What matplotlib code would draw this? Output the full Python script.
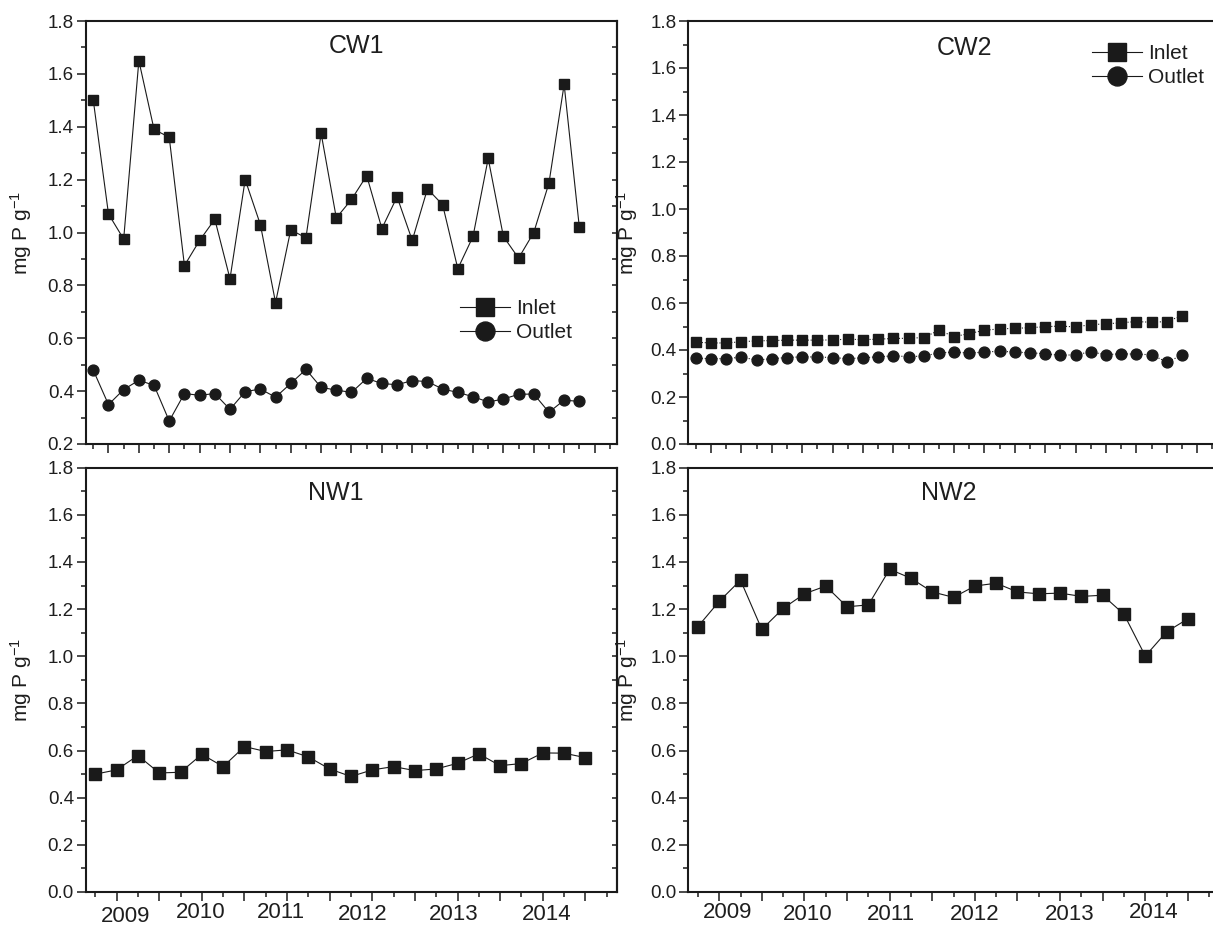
import matplotlib
matplotlib.use('Agg')
import matplotlib.pyplot as plt
from matplotlib.ticker import MultipleLocator, NullFormatter, FormatStrFormatter

plt.rcParams['font.family'] = ['Liberation Sans', 'DejaVu Sans']
plt.rcParams['mathtext.fontset'] = 'custom'
plt.rcParams['mathtext.rm'] = 'Liberation Sans'
plt.rcParams['mathtext.it'] = 'Liberation Sans:italic'
plt.rcParams['mathtext.bf'] = 'Liberation Sans:bold'

# ---------------- data ----------------
cw1_inlet = [1.50, 1.07, 0.975, 1.65, 1.39, 1.36, 0.875, 0.97, 1.05, 0.825, 1.20,
             1.03, 0.735, 1.01, 0.98, 1.375, 1.055, 1.125, 1.215, 1.015, 1.135, 0.97,
             1.165, 1.105, 0.863, 0.985, 1.28, 0.985, 0.903, 1.00, 1.187, 1.56, 1.02]
cw1_outlet = [0.479, 0.349, 0.406, 0.441, 0.422, 0.287, 0.391, 0.384, 0.391, 0.331,
              0.398, 0.408, 0.377, 0.429, 0.482, 0.414, 0.404, 0.395, 0.448, 0.429,
              0.424, 0.440, 0.436, 0.408, 0.395, 0.379, 0.359, 0.370, 0.388, 0.389,
              0.320, 0.366, 0.361]
cw2_inlet = [0.433, 0.430, 0.430, 0.435, 0.439, 0.440, 0.442, 0.442, 0.442, 0.443,
             0.446, 0.444, 0.446, 0.449, 0.450, 0.453, 0.484, 0.457, 0.470, 0.484,
             0.490, 0.492, 0.495, 0.499, 0.502, 0.498, 0.508, 0.511, 0.516, 0.521,
             0.518, 0.521, 0.546]
cw2_outlet = [0.365, 0.363, 0.363, 0.370, 0.357, 0.363, 0.368, 0.371, 0.370, 0.368,
              0.363, 0.367, 0.371, 0.375, 0.372, 0.374, 0.388, 0.391, 0.387, 0.391,
              0.395, 0.391, 0.388, 0.384, 0.377, 0.380, 0.392, 0.380, 0.384, 0.382,
              0.380, 0.349, 0.377]
nw1_inlet = [0.500, 0.518, 0.579, 0.505, 0.508, 0.584, 0.532, 0.617, 0.596, 0.603,
             0.573, 0.522, 0.490, 0.518, 0.532, 0.515, 0.522, 0.546, 0.586, 0.536,
             0.545, 0.590, 0.589, 0.570]
nw2_inlet = [1.126, 1.233, 1.323, 1.114, 1.203, 1.265, 1.298, 1.210, 1.218, 1.369,
             1.331, 1.273, 1.250, 1.298, 1.310, 1.273, 1.265, 1.268, 1.254, 1.259,
             1.178, 1.001, 1.104, 1.159]
year_labels = ['2009', '2010', '2011', '2012', '2013', '2014']
panel_titles = ['CW1', 'CW2', 'NW1', 'NW2']
series_labels = ['Inlet', 'Outlet']
ylabel_text = 'mg P g$^{-1}$'

# label placement (layout only)
nw1_year_x = [2.43, 5.96, 9.70, 13.55, 17.80, 22.20]
nw1_year_off = [24, 21, 21, 22, 22, 23]
nw2_year_x = [2.41, 6.17, 10.07, 13.97, 18.45, 22.40]
nw2_year_off = [21, 23, 23, 22, 23, 21]

# ---------------- figure ----------------
W, H = 1213, 927
fig = plt.figure(figsize=(W / 100, H / 100), dpi=100)

def frac_rect(left_px, right_px, top_px, bottom_px):
    return [left_px / W, 1 - bottom_px / H, (right_px - left_px) / W, (bottom_px - top_px) / H]

ax_cw1 = fig.add_axes(frac_rect(85.7, 617.3, 21, 444))
ax_cw2 = fig.add_axes(frac_rect(688.3, 1219.9, 21, 444))
ax_nw1 = fig.add_axes(frac_rect(85.7, 617.3, 467.7, 892))
ax_nw2 = fig.add_axes(frac_rect(688.3, 1219.9, 467.7, 892))

INK = '#1a1a1a'
TXT = '#1e1e1e'
px = 0.72  # points per pixel

def style(ax, ylim, xlim, ylabel_x):
    ax.set_xlim(*xlim)
    ax.set_ylim(*ylim)
    for s in ax.spines.values():
        s.set_linewidth(1.5)
        s.set_color(INK)
    ax.xaxis.set_major_locator(MultipleLocator(2))
    ax.xaxis.set_minor_locator(MultipleLocator(1))
    ax.xaxis.set_major_formatter(NullFormatter())
    ax.yaxis.set_major_locator(MultipleLocator(0.2))
    ax.yaxis.set_minor_locator(MultipleLocator(0.1))
    ax.yaxis.set_major_formatter(FormatStrFormatter('%.1f'))
    ax.tick_params(axis='both', which='major', direction='out', length=9 * px, width=1.1,
                   color=INK, labelsize=13.5, labelcolor=TXT, pad=2)
    ax.tick_params(axis='both', which='minor', direction='out', length=5 * px, width=1.1,
                   color=INK)
    ax.tick_params(top=False, right=False)
    sec = ax.secondary_yaxis('right')
    sec.yaxis.set_major_locator(MultipleLocator(0.2))
    sec.yaxis.set_minor_locator(MultipleLocator(0.1))
    sec.yaxis.set_major_formatter(NullFormatter())
    sec.tick_params(which='both', direction='in', length=5 * px, width=1.1, color=INK)
    sec.spines['right'].set_linewidth(1.5)
    sec.spines['right'].set_color(INK)
    ax.set_ylabel(ylabel_text, fontsize=15, color=TXT)
    ax.yaxis.set_label_coords(ylabel_x, 0.5)

x33 = list(range(1, len(cw1_inlet) + 1))
x24 = list(range(1, len(nw1_inlet) + 1))

leg_kw = dict(loc='center left', frameon=False, fontsize=15, handlelength=2.4,
              handletextpad=0.3, borderpad=0, borderaxespad=0, labelspacing=0.25,
              markerscale=1.75, numpoints=1, labelcolor=TXT)

# CW1
style(ax_cw1, (0.2, 1.8), (0.5, 35.5), -0.097)
ax_cw1.plot(x33, cw1_inlet, '-', color=INK, lw=0.8, marker='s', ms=7.5, mfc=INK, mec=INK,
            label=series_labels[0])
ax_cw1.plot(x33, cw1_outlet, '-', color=INK, lw=0.8, marker='o', ms=7.8, mfc=INK, mec=INK,
            label=series_labels[1])
ax_cw1.text(0.51, 0.94, panel_titles[0], transform=ax_cw1.transAxes, ha='center', va='center',
            fontsize=18, color=TXT)
ax_cw1.legend(bbox_to_anchor=(0.704, 0.292), **leg_kw)

# CW2
style(ax_cw2, (0.0, 1.8), (0.5, 35.5), -0.091)
ax_cw2.plot(x33, cw2_inlet, ':', color=INK, lw=0.8, marker='s', ms=7.5, mfc=INK, mec=INK,
            label=series_labels[0])
ax_cw2.plot(x33, cw2_outlet, ':', color=INK, lw=0.8, marker='o', ms=7.8, mfc=INK, mec=INK,
            label=series_labels[1])
ax_cw2.text(0.52, 0.935, panel_titles[1], transform=ax_cw2.transAxes, ha='center', va='center',
            fontsize=18, color=TXT)
leg2 = ax_cw2.legend(bbox_to_anchor=(0.759, 0.894), **leg_kw)
for h in leg2.get_lines():
    h.set_linestyle('-')

# NW1
style(ax_nw1, (0.0, 1.8), (0.55, 25.5), -0.097)
ax_nw1.plot(x24, nw1_inlet, '-', color=INK, lw=0.8, marker='s', ms=8.5, mfc=INK, mec=INK)
ax_nw1.text(0.47, 0.94, panel_titles[2], transform=ax_nw1.transAxes, ha='center', va='center',
            fontsize=18, color=TXT)
for lab, xv, off in zip(year_labels, nw1_year_x, nw1_year_off):
    ax_nw1.annotate(lab, xy=(xv, 0), xycoords=('data', 'axes fraction'),
                    xytext=(0, -off * px), textcoords='offset points',
                    ha='center', va='center', fontsize=16, color=TXT, annotation_clip=False)

# NW2
style(ax_nw2, (0.0, 1.8), (0.55, 25.5), -0.091)
ax_nw2.plot(x24, nw2_inlet, '-', color=INK, lw=0.8, marker='s', ms=8.5, mfc=INK, mec=INK)
ax_nw2.text(0.49, 0.94, panel_titles[3], transform=ax_nw2.transAxes, ha='center', va='center',
            fontsize=18, color=TXT)
for lab, xv, off in zip(year_labels, nw2_year_x, nw2_year_off):
    ax_nw2.annotate(lab, xy=(xv, 0), xycoords=('data', 'axes fraction'),
                    xytext=(0, -off * px), textcoords='offset points',
                    ha='center', va='center', fontsize=16, color=TXT, annotation_clip=False)

fig.savefig('out.png', dpi=100)
